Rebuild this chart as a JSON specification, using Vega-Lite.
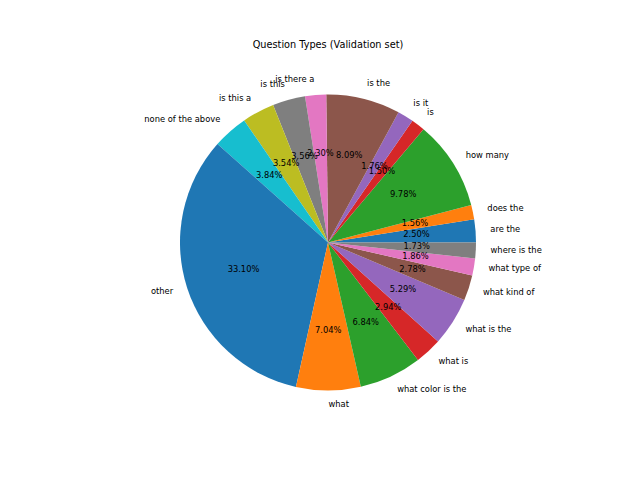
{
  "$schema": "https://vega.github.io/schema/vega-lite/v6.json",
  "autosize": {"type": "none"},
  "width": 296,
  "height": 296,
  "padding": {"left": 180, "top": 94.4, "right": 164, "bottom": 89.6},
  "background": "white",
  "title": {
    "text": "Question Types (Validation set)",
    "font": "DejaVu Sans",
    "fontSize": 9.72,
    "fontWeight": "normal",
    "color": "black",
    "frame": "group",
    "anchor": "middle",
    "baseline": "alphabetic",
    "offset": 17
  },
  "config": {"view": {"stroke": null}},
  "data": {
    "values": [
      {"label": "are the", "pct": 2.50},
      {"label": "does the", "pct": 1.56},
      {"label": "how many", "pct": 9.78},
      {"label": "is", "pct": 1.50},
      {"label": "is it", "pct": 1.76},
      {"label": "is the", "pct": 8.09},
      {"label": "is there a", "pct": 2.30},
      {"label": "is this", "pct": 3.56},
      {"label": "is this a", "pct": 3.54},
      {"label": "none of the above", "pct": 3.84},
      {"label": "other", "pct": 33.10},
      {"label": "what", "pct": 7.04},
      {"label": "what color is the", "pct": 6.84},
      {"label": "what is", "pct": 2.94},
      {"label": "what is the", "pct": 5.29},
      {"label": "what kind of", "pct": 2.78},
      {"label": "what type of", "pct": 1.86},
      {"label": "where is the", "pct": 1.73}
    ]
  },
  "transform": [
    {"window": [{"op": "sum", "field": "pct", "as": "end"}], "sort": [{"field": "label", "order": "ascending"}], "frame": [null, 0]},
    {"calculate": "datum.end - datum.pct", "as": "start"},
    {"calculate": "datum.end - datum.pct / 2", "as": "mid"},
    {"calculate": "cos(2 * PI * datum.mid / 100.01)", "as": "side"},
    {"calculate": "format(datum.pct, '.2f') + '%'", "as": "pctText"}
  ],
  "encoding": {
    "theta": {"field": "start", "type": "quantitative", "stack": false, "scale": {"domain": [0, 100.01], "range": [1.5707963, -4.712389]}}
  },
  "layer": [
    {
      "mark": {"type": "arc", "stroke": null},
      "encoding": {
        "theta": {"field": "start", "type": "quantitative", "stack": false},
        "theta2": {"field": "end"},
        "color": {
          "field": "label",
          "type": "nominal",
          "legend": null,
          "scale": {
            "domain": ["are the", "does the", "how many", "is", "is it", "is the", "is there a", "is this", "is this a", "none of the above", "other", "what", "what color is the", "what is", "what is the", "what kind of", "what type of", "where is the"],
            "range": ["#1f77b4", "#ff7f0e", "#2ca02c", "#d62728", "#9467bd", "#8c564b", "#e377c2", "#7f7f7f", "#bcbd22", "#17becf", "#1f77b4", "#ff7f0e", "#2ca02c", "#d62728", "#9467bd", "#8c564b", "#e377c2", "#7f7f7f"]
          }
        }
      }
    },
    {
      "transform": [{"filter": "datum.side > 0"}],
      "mark": {"type": "text", "radius": 162.8, "align": "left", "baseline": "middle", "font": "DejaVu Sans", "fontSize": 8.33, "color": "black"},
      "encoding": {
        "theta": {"field": "mid", "type": "quantitative", "stack": false},
        "text": {"field": "label"}
      }
    },
    {
      "transform": [{"filter": "datum.side <= 0"}],
      "mark": {"type": "text", "radius": 162.8, "align": "right", "baseline": "middle", "font": "DejaVu Sans", "fontSize": 8.33, "color": "black"},
      "encoding": {
        "theta": {"field": "mid", "type": "quantitative", "stack": false},
        "text": {"field": "label"}
      }
    },
    {
      "mark": {"type": "text", "radius": 88.8, "align": "center", "baseline": "middle", "font": "DejaVu Sans", "fontSize": 8.33, "color": "black"},
      "encoding": {
        "theta": {"field": "mid", "type": "quantitative", "stack": false},
        "text": {"field": "pctText"}
      }
    }
  ]
}
